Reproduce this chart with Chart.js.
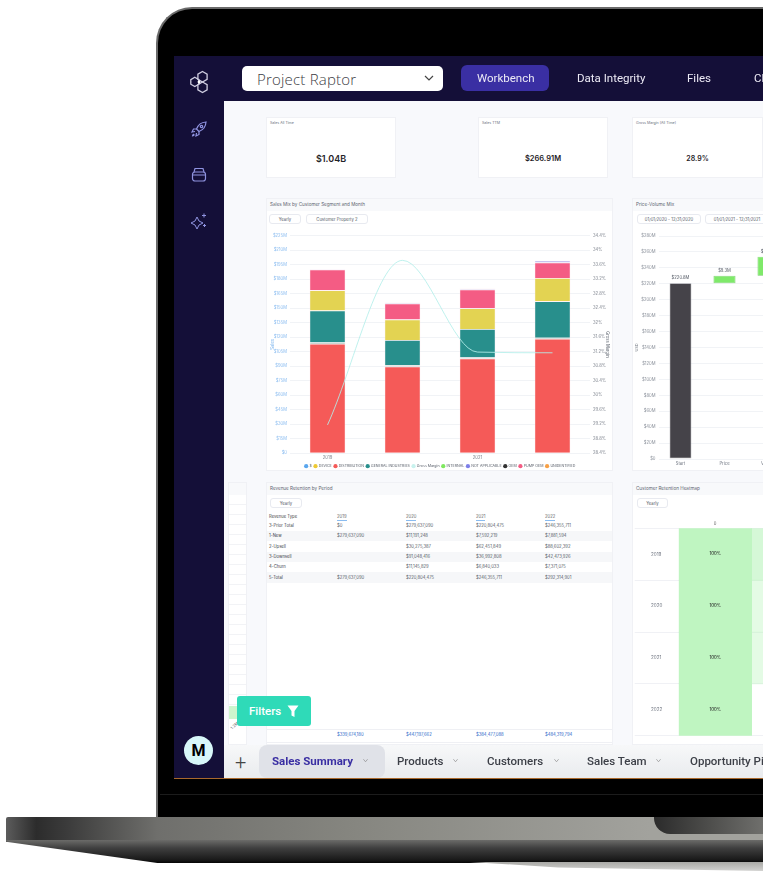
<!DOCTYPE html>
<html>
<head>
<meta charset="utf-8">
<title>Project Raptor</title>
<script src="https://cdn.jsdelivr.net/npm/chart.js@4"></script>
<style>
  html, body { margin: 0; padding: 0; background: #fff; overflow: hidden; width: 763px; height: 891px; }
  body { position: relative; font-family: Inter, Roboto, sans-serif; }
  .abs, .card, .chip, .txt { position: absolute; }
  .txt { white-space: nowrap; }

  /* laptop */
  #lid { position: absolute; left: 156px; top: 7px; width: 720px; height: 811px; background: #000; border: solid #6a6a6a; border-width: 2px 0 0 2px; border-top-left-radius: 36px; box-sizing: border-box; }
  #seam { position: absolute; left: 160px; top: 794px; width: 603px; height: 1px; background: #1c1c1c; }
  #base { position: absolute; left: 6px; top: 817px; width: 757px; height: 25px; background: linear-gradient(90deg, #5c5c5c 0, #2c2c2c 4%, #3b3b3b 8%, #6f6f6c 20%, #85857f 45%, #a2a29d 85%); border-top-left-radius: 2px; }
  #baseLow { position: absolute; left: 6px; top: 840px; width: 757px; height: 23px; background: linear-gradient(180deg, #6b6b69 0, #3f3f3f 35%, #1a1a1a 85%, #050505 100%); clip-path: polygon(0 0, 100% 0, 100% 100%, 20% 100%, 0 8%); }
  #baseShadow { position: absolute; left: 470px; top: 862px; width: 293px; height: 9px; background: linear-gradient(180deg, #a9a9a6, #d2d2d0); clip-path: polygon(0 0, 100% 0, 100% 100%, 30% 60%); }
  #notch { position: absolute; left: 654px; top: 817px; width: 109px; height: 17px; background: linear-gradient(90deg, #2b2b2b, #4d4d4b 50%, #6f6f6c); border-bottom-left-radius: 16px; }

  /* app chrome */
  #screen { position: absolute; left: 174px; top: 56px; width: 589px; height: 722px; background: #140f38; overflow: hidden; }
  #orange { position: absolute; left: 174px; top: 778px; width: 589px; height: 1px; background: #a8682c; }
  #page { position: absolute; left: 224px; top: 101px; width: 539px; height: 644px; background: #f8f9fc; overflow: hidden; filter: blur(0.5px); }
  #tabs { position: absolute; left: 224px; top: 745px; width: 539px; height: 33px; background: linear-gradient(180deg, #f7f8f9, #e9ebee); overflow: hidden; }
  .card { background: #fff; border: 1px solid #f0f1f5; box-sizing: border-box; overflow: hidden; }
  .band { position: absolute; left: 0; top: 0; right: 0; height: 12px; background: #f8f9fb; font-size: 4.6px; line-height: 12px; color: #5f6672; padding-left: 3px; }
  .chip { background: #fff; border: 1px solid #e8eaf0; border-radius: 3px; font-size: 4.2px; color: #555c68; line-height: 9px; text-align: center; box-sizing: border-box; height: 10px; }
  .nav { position: absolute; top: 71px; font: 400 11.5px Roboto, sans-serif; color: #eceaf5; white-space: nowrap; filter: blur(0.2px); }
  .tab { position: absolute; top: 754px; font: 500 11.5px Roboto, sans-serif; color: #3d4048; white-space: nowrap; filter: blur(0.2px); }
  .chev { position: absolute; top: 758px; width: 5px; height: 5px; }
  #filters { position: absolute; left: 237px; top: 696px; width: 74px; height: 30px; background: #2fdab8; border-radius: 3px; color: #fff; font: 500 11.5px Roboto, sans-serif; line-height: 30px; padding-left: 12px; box-sizing: border-box; }
  #avatar { position: absolute; left: 184px; top: 736px; width: 29px; height: 29px; border-radius: 50%; background: #d8f7f9; color: #000; font: 700 16px/29px Roboto, sans-serif; text-align: center; }
  canvas { position: absolute; display: block; }
</style>
</head>
<body>
<div id="lid"></div>
<div id="seam"></div>
<div id="base"></div>
<div id="notch"></div>
<div id="baseLow"></div>
<div id="baseShadow"></div>

<div id="screen"></div>
<div id="orange"></div>

<!-- sidebar icons -->
<svg class="abs" style="left:189px;top:70px" width="22" height="24" viewBox="0 0 22 24" fill="none" stroke="#cfcde0" stroke-width="1.3"><path d="M11 1.5l4.6 2.7v5.2L11 12 6.4 9.4V4.2z" transform="translate(2.5 0)"/><path d="M5.8 7.2l4 2.4v4.6l-4 2.4-4-2.4V9.6z"/><path d="M11 12l4.6 2.7v5.2L11 22.5l-4.6-2.6v-5.2z" transform="translate(2.5 0)"/><circle cx="10" cy="12" r="1.4" fill="#fff" stroke="none"/></svg>
<svg class="abs" style="left:190px;top:120px" width="18" height="18" viewBox="0 0 18 18" fill="none" stroke="#8f93e0" stroke-width="1.2"><path d="M16 2c-5 .3-8 3-9.5 7l2.5 2.5c4-1.5 6.7-4.5 7-9.5z"/><path d="M6.5 9H3.500L2 12l3-.5M9 11.500v3L6 16l.5-3"/><circle cx="11.5" cy="6.5" r="1.2"/><path d="M4 14c-1 .5-1.5 1.5-1.5 2 1 0 1.5-.5 2-1.5"/></svg>
<svg class="abs" style="left:191px;top:167px" width="16" height="15" viewBox="0 0 16 15" fill="none" stroke="#8f93e0" stroke-width="1.2"><rect x="1.5" y="5" width="13" height="9" rx="2.5"/><path d="M3 5l1-3.5h8L13 5M2 8h12"/></svg>
<svg class="abs" style="left:190px;top:212px" width="19" height="18" viewBox="0 0 19 18" fill="#8f93e0" stroke="#8f93e0" stroke-width="1"><path d="M7 5l2 4 4 2-4 2-2 4-2-4-4-2 4-2z" fill="none"/><path d="M14 1.5v4M12 3.5h4M14.5 12v3M13 13.5h3"/></svg>
<div id="avatar">M</div>

<!-- top bar -->
<div class="abs" style="left:242px;top:66px;width:201px;height:25px;background:#fff;border-radius:5px"></div>
<div class="txt" style="left:257px;top:69px;font:300 15px 'Open Sans',sans-serif;color:#3c3c44;letter-spacing:.2px">Project Raptor</div>
<svg class="abs" style="left:424px;top:75px" width="10" height="7" viewBox="0 0 10 7" fill="none" stroke="#444" stroke-width="1.2"><path d="M1 1l4 4 4-4"/></svg>
<div class="abs" style="left:461px;top:65px;width:88px;height:26px;background:#3a2fa3;border-radius:6px"></div>
<div class="nav" style="left:477px">Workbench</div>
<div class="nav" style="left:577px">Data Integrity</div>
<div class="nav" style="left:687px">Files</div>
<div class="nav" style="left:754px">Clients</div>

<!-- dashboard -->
<div id="page"></div>

<div id="tabs"></div>
<div class="txt" style="left:235px;top:750px;font:300 20px Roboto,sans-serif;color:#444">+</div>
<div class="abs" style="left:259px;top:745px;width:126px;height:33px;background:#e0e2e8;border-radius:8px"></div>
<div class="tab" style="left:272px;color:#3a2fa3;font-weight:700">Sales Summary</div>
<div class="tab" style="left:397px">Products</div>
<div class="tab" style="left:487px">Customers</div>
<div class="tab" style="left:587px">Sales Team</div>
<div class="tab" style="left:690px">Opportunity Pipeline</div>
<svg class="chev" style="left:363px" viewBox="0 0 6 6" fill="none" stroke="#888" stroke-width=".8"><path d="M.5 1.5L3 4.5l2.5-3"/></svg>
<svg class="chev" style="left:453px" viewBox="0 0 6 6" fill="none" stroke="#888" stroke-width=".8"><path d="M.5 1.5L3 4.5l2.5-3"/></svg>
<svg class="chev" style="left:554px" viewBox="0 0 6 6" fill="none" stroke="#888" stroke-width=".8"><path d="M.5 1.5L3 4.5l2.5-3"/></svg>
<svg class="chev" style="left:656px" viewBox="0 0 6 6" fill="none" stroke="#888" stroke-width=".8"><path d="M.5 1.5L3 4.5l2.5-3"/></svg>

<div id="filters">Filters<svg class="abs" style="left:50px;top:9px" width="12" height="13" viewBox="0 0 12 13" fill="#fff"><path d="M.5.5h11L7.5 6v6L4.5 10.5V6z"/></svg></div>

<script>
// ---- sales mix
const mixYears = ["2019", "2020", "2021", "2022"];
const mixDistribution = [113.2, 89.7, 98.0, 118.4];
const mixSliver = [1.4, 1.4, 1.0, 1.0];
const mixIndustries = [32.9, 26.0, 29.4, 37.7];
const mixDevice = [21.1, 21.1, 21.5, 24.2];
const mixPumpOem = [21.5, 16.6, 19.4, 15.9];
const mixNotApplicable = [0.3, 1.0, 1.0, 2.0];
const mixGrossMargin = [29.18, 33.72, 31.19, 31.17];
const mixLegend = ["$", "DEVICE", "DISTRIBUTION", "GENERAL INDUSTRIES", "Gross Margin", "INTERNAL", "NOT APPLICABLE", "OEM", "PUMP OEM", "UNIDENTIFIED"];

// ---- price volume mix
const pvmLabels = ["Start", "Price", "Volume"];
const pvmFrom = [0, 220.8, 230.1];
const pvmTo = [220.8, 230.1, 254.1];
const pvmTexts = ["$220.8M", "$9.3M", "$24.0M"];

// ---- KPI cards
const kpiTitles = ["Sales All Time", "Sales TTM", "Gross Margin (All Time)"];
const kpiValues = ["$1.04B", "$266.91M", "28.9%"];

// ---- revenue retention table
const retHeader = ["2019", "2020", "2021", "2022"];
const retRows = ["3-Prior Total", "1-New", "2-Upsell", "3-Downsell", "4-Churn", "5-Total"];
const retCells = [
  ["$0", "$279,637,090", "$220,804,475", "$246,355,711"],
  ["$279,637,090", "$11,191,248", "$7,592,219", "$7,881,594"],
  ["", "$30,275,387", "$62,451,849", "$88,602,392"],
  ["", "$91,048,416", "$36,992,808", "$42,473,926"],
  ["", "$11,145,829", "$6,840,033", "$7,371,075"],
  ["$279,637,090", "$220,804,475", "$246,355,711", "$292,314,901"],
];
const retFooter = ["$339,674,180", "$447,197,662", "$384,477,088", "$484,319,794"];

// ---- retention heatmap
const heatYears = ["2019", "2020", "2021", "2022"];
const heatCol0 = [1, 1, 1, 1];
const heatCol1 = [0.65, 0.42, 0.42, 0];

const page = document.getElementById("page");

function card(x, y, w, h, title) {
  const c = document.createElement("div");
  c.className = "card";
  c.style.cssText = `left:${x - 224}px;top:${y - 101}px;width:${w}px;height:${h}px`;
  if (title !== undefined) {
    const b = document.createElement("div");
    b.className = "band";
    b.textContent = title;
    c.appendChild(b);
  }
  page.appendChild(c);
  return c;
}
function chip(parent, x, y, w, text) {
  const d = document.createElement("div");
  d.className = "chip";
  d.style.cssText = `left:${x}px;top:${y}px;width:${w}px`;
  d.textContent = text;
  parent.appendChild(d);
}
function text(parent, x, y, str, css) {
  const d = document.createElement("div");
  d.className = "txt";
  d.style.cssText = `left:${x}px;top:${y}px;${css || ""}`;
  d.textContent = str;
  parent.appendChild(d);
  return d;
}
function canvasIn(parent, x, y, w, h) {
  const cv = document.createElement("canvas");
  cv.width = w; cv.height = h;
  cv.style.cssText = `left:${x}px;top:${y}px;width:${w}px;height:${h}px`;
  parent.appendChild(cv);
  return cv;
}

// KPI cards
[[266, 130, 9], [478, 130, 7.5], [632, 131, 7]].forEach((k, i) => {
  const c = card(k[0], 117, k[1], 61, undefined);
  text(c, 3, 3, kpiTitles[i], "font-size:3.6px;color:#6b7280");
  const v = text(c, 0, 36, kpiValues[i], `width:100%;text-align:center;font-weight:600;color:#1f2328;font-size:${k[2]}px`);
  v.style.lineHeight = "10px";
});

Chart.defaults.font.family = "Inter, Roboto, sans-serif";
Chart.defaults.font.size = 4.2;
Chart.defaults.animation = false;
Chart.defaults.responsive = false;

// Sales mix chart
const mixCard = card(266, 198, 347, 273, "Sales Mix by Customer Segment and Month");
chip(mixCard, 2, 15, 32, "Yearly");
chip(mixCard, 39, 15, 62, "Customer Property 2");
const mixDatasets = [
  { label: "DISTRIBUTION", data: mixDistribution, backgroundColor: "#f55a58" },
  { label: "INTERNAL", data: mixSliver, backgroundColor: "#9db3aa", legendColor: "#7fe85f" },
  { label: "GENERAL INDUSTRIES", data: mixIndustries, backgroundColor: "#288f8c" },
  { label: "DEVICE", data: mixDevice, backgroundColor: "#e3d352", legendColor: "#eec932" },
  { label: "PUMP OEM", data: mixPumpOem, backgroundColor: "#f45c84" },
  { label: "NOT APPLICABLE", data: mixNotApplicable, backgroundColor: "#b6b0e8", legendColor: "#7d7fe8" },
  { label: "$", data: [], backgroundColor: "#5aa6ee" },
  { label: "OEM", data: [], backgroundColor: "#333333" },
  { label: "UNIDENTIFIED", data: [], backgroundColor: "#f7a046" },
].map((d) => ({ ...d, type: "bar", yAxisID: "y", order: 1, stack: "mix", barPercentage: 0.48, categoryPercentage: 1, borderWidth: 0.7, borderColor: "rgba(255,235,240,0.8)" }));
mixDatasets.push({ label: "Gross Margin", data: mixGrossMargin, type: "line", yAxisID: "y1", order: 0, borderColor: "rgba(180,238,234,0.85)", backgroundColor: "#c8f2ee", borderWidth: 1, pointRadius: 0, cubicInterpolationMode: "monotone" });

new Chart(canvasIn(mixCard, -1, 26, 347, 245), {
  data: { labels: mixYears, datasets: mixDatasets },
  options: {
    // the legend reserves 10px below itself, hence the negative bottom
    layout: { padding: { top: 10.7, left: 4, right: 3, bottom: -8 } },
    plugins: {
      tooltip: { enabled: false },
      legend: {
        position: "bottom",
        labels: {
          font: { size: 3.6 }, color: "#555b66", padding: 2.2, boxWidth: 3, boxHeight: 3,
          generateLabels: (chart) => mixLegend.map((name) => {
            const d = chart.data.datasets.find((s) => s.label === name);
            return { text: name, fillStyle: d.legendColor || d.backgroundColor, strokeStyle: "transparent", lineWidth: 0, pointStyle: "circle", fontColor: "#555b66" };
          }),
          usePointStyle: true,
        },
      },
    },
    scales: {
      x: {
        stacked: true,
        grid: { display: false, drawTicks: false },
        border: { display: false },
        ticks: { autoSkip: false, maxRotation: 0, padding: 2, color: "#7a808a", callback: (v, i) => (i % 2 ? "" : mixYears[i]) },
        afterFit: (s) => { s.height = 9; },
      },
      y: {
        stacked: true, min: 0, max: 225,
        grid: { color: "#f1f3f6", drawTicks: false },
        border: { display: false },
        title: { display: true, text: "Sales", color: "#7db5ee", font: { size: 4.2 }, padding: 0 },
        ticks: { stepSize: 15, autoSkip: false, color: "#8abcf0", padding: 3, callback: (v) => (v ? `$${v}M` : "$0") },
        afterFit: (s) => { s.width = 20; },
      },
      y1: {
        position: "right", min: 28.4, max: 34.4,
        grid: { display: false, drawTicks: false },
        border: { display: false },
        title: { display: true, text: "Gross Margin", color: "#6a707a", font: { size: 4.2 }, padding: 0 },
        ticks: { stepSize: 0.4, autoSkip: false, color: "#808690", padding: 3, callback: (v) => Number(v.toFixed(1)) + "%" },
        afterFit: (s) => { s.width = 20; },
      },
    },
  },
});

// Price volume mix chart
const pvmCard = card(632, 198, 180, 273, "Price-Volume Mix");
chip(pvmCard, 4, 15, 64, "01/01/2020 - 12/31/2020");
chip(pvmCard, 72, 15, 64, "01/01/2021 - 12/31/2021");
const pvmLabelPlugin = {
  id: "pvmLabels",
  afterDatasetsDraw(chart) {
    const { ctx } = chart;
    const meta = chart.getDatasetMeta(0);
    ctx.save();
    ctx.font = "4.2px Inter, Roboto, sans-serif";
    ctx.fillStyle = "#555b66";
    ctx.textAlign = "center";
    meta.data.forEach((bar, i) => ctx.fillText(pvmTexts[i], bar.x, bar.y - 4));
    ctx.restore();
  },
};
new Chart(canvasIn(pvmCard, -1, 26, 180, 245), {
  type: "bar",
  data: {
    labels: pvmLabels,
    datasets: [{
      data: pvmLabels.map((_, i) => [pvmFrom[i], pvmTo[i]]),
      backgroundColor: ["#454349", "#7fe96a", "#7fe96a"],
      borderColor: ["#b8b8bc", "#6fc862", "#6fc862"],
      borderWidth: 0.7,
      borderSkipped: false,
      barPercentage: 0.5,
      categoryPercentage: 1,
    }],
  },
  plugins: [pvmLabelPlugin],
  options: {
    layout: { padding: { top: 11, bottom: 4, left: 3, right: 21.5 } },
    plugins: { legend: { display: false }, tooltip: { enabled: false } },
    scales: {
      x: {
        grid: { display: false, drawTicks: false },
        border: { display: false },
        ticks: { padding: 2, color: "#6f7580", maxRotation: 0 },
        afterFit: (s) => { s.height = 7; },
      },
      y: {
        min: 0, max: 280,
        grid: { color: "#f1f3f6", drawTicks: false },
        border: { display: false },
        title: { display: true, text: "USD", color: "#7a808a", font: { size: 3.8 }, padding: 0 },
        ticks: { stepSize: 20, autoSkip: false, color: "#8b919b", padding: 3, callback: (v) => (v ? `$${v}M` : "$0") },
        afterFit: (s) => { s.width = 23.5; },
      },
    },
  },
});

// left partial card
const sideCard = card(228, 482, 19, 263, "");
const rule = document.createElement("div");
rule.style.cssText = "position:absolute;left:0;right:0;top:12px;bottom:30px;background:repeating-linear-gradient(180deg,#fff 0,#fff 9.2px,#f2f3f6 9.2px,#f2f3f6 10px)";
sideCard.appendChild(rule);
const sideGreen = document.createElement("div");
sideGreen.style.cssText = "position:absolute;left:0;width:9px;top:223px;height:13px;background:#cdf5cd";
sideCard.appendChild(sideGreen);
text(sideCard, 1, 240, "1.2M", "font-size:4px;color:#666;transform:rotate(-45deg)");

// Revenue retention table
const retCard = card(266, 482, 347, 263, "Revenue Retention by Period");
chip(retCard, 3, 15, 32, "Yearly");
const retX = [70, 139, 209, 278];
text(retCard, 2, 31, "Revenue Type", "font-size:4.2px;color:#444");
retHeader.forEach((h, j) => text(retCard, retX[j], 31, h, "font-size:4.2px;color:#666;border-bottom:1px solid #8abcf0;line-height:6px"));
retRows.forEach((r, i) => {
  const top = 37.5 + i * 10.35;
  const row = document.createElement("div");
  row.style.cssText = `position:absolute;left:0;right:0;top:${top}px;height:10.35px;background:${i % 2 ? "#f6f7f9" : "#fff"}`;
  retCard.appendChild(row);
  text(row, 2, 2.5, r, "font-size:4.2px;color:#3d4048");
  retCells[i].forEach((v, j) => text(row, retX[j], 2.5, v, "font-size:4.2px;color:#555b66"));
});
const foot = document.createElement("div");
foot.style.cssText = "position:absolute;left:0;right:0;top:246px;height:12px;border-top:1px solid #eff0f4;border-bottom:1px solid #eff0f4";
retCard.appendChild(foot);
retFooter.forEach((v, j) => text(foot, retX[j], 2, v, "font-size:4.2px;color:#2a66c8"));

// Retention heatmap, stacked horizontal bars over a unit-per-column scale
const heatCard = card(632, 482, 180, 263, "Customer Retention Heatmap");
chip(heatCard, 4, 15, 31, "Yearly");
const heatColor = (v) => `rgba(191,245,193,${v})`;
const heatLabelPlugin = {
  id: "heatLabels",
  afterDatasetsDraw(chart) {
    const { ctx } = chart;
    ctx.save();
    ctx.font = "600 4.2px Inter, Roboto, sans-serif";
    ctx.fillStyle = "#3f4a40";
    ctx.textAlign = "center";
    ctx.textBaseline = "middle";
    chart.getDatasetMeta(0).data.forEach((bar, i) => ctx.fillText(Math.round(heatCol0[i] * 100) + "%", (bar.x + bar.base) / 2, bar.y));
    ctx.restore();
  },
};
new Chart(canvasIn(heatCard, -1, 26, 180, 235), {
  type: "bar",
  data: {
    labels: heatYears,
    datasets: [heatCol0, heatCol1].map((vals) => ({
      data: vals.map(() => 1),
      backgroundColor: vals.map(heatColor),
      barPercentage: 1,
      categoryPercentage: 1,
      borderWidth: 0,
    })),
  },
  plugins: [heatLabelPlugin],
  options: {
    indexAxis: "y",
    layout: { padding: { bottom: 8.3, left: 19 } },
    plugins: { legend: { display: false }, tooltip: { enabled: false } },
    scales: {
      x: {
        position: "top", stacked: true, min: 0, max: 1.8,
        grid: { display: false, drawTicks: false },
        border: { display: false },
        ticks: { stepSize: 0.5, autoSkip: false, maxRotation: 0, padding: 2, color: "#666", callback: (v) => (v === 0.5 ? "0" : v === 1.5 ? "1" : "") },
        afterFit: (s) => { s.height = 19.3; },
      },
      y: {
        stacked: true,
        grid: { color: "#f0f1f5", drawTicks: true, tickLength: 44, tickColor: "#f0f1f5" },
        border: { display: false },
        ticks: { color: "#6f7580", font: { size: 4.6 }, padding: 0, crossAlign: "far" },
        afterFit: (s) => { s.width = 27.7; },
      },
    },
  },
});
</script>
</body>
</html>
